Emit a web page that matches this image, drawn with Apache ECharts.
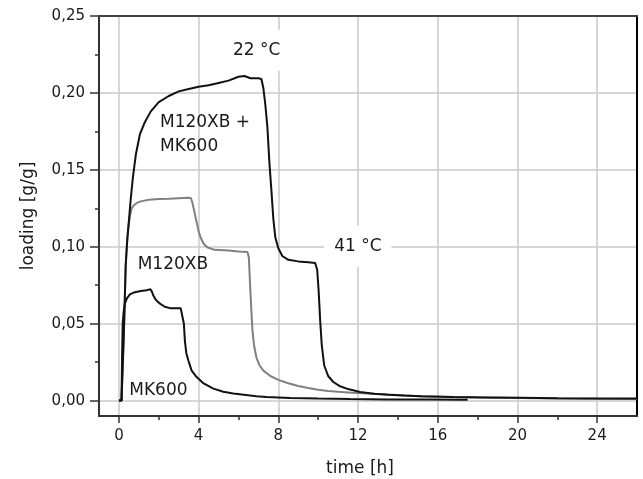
<!DOCTYPE html>
<html><head><meta charset="utf-8">
<script src="https://cdn.jsdelivr.net/npm/echarts@6/dist/echarts.min.js"></script>
<style>html,body{margin:0;padding:0;background:#fff}#c{width:643px;height:479px}</style>
</head><body><div id="c"></div>
<script>
// ---- data ----
const mixTime = [0, 0.13, 0.25, 0.34, 0.42, 0.5, 0.6, 0.7, 0.85, 1.05, 1.3, 1.6, 2.0, 2.5, 3.0, 3.5, 4.0, 4.5, 5.0, 5.5, 6.0, 6.3, 6.6, 7.0, 7.15, 7.25, 7.35, 7.45, 7.55, 7.65, 7.75, 7.85, 8.0, 8.2, 8.5, 9.0, 9.5, 9.85, 9.95, 10.02, 10.1, 10.18, 10.3, 10.5, 10.76, 11.1, 11.5, 12.1, 12.8, 13.5, 14.3, 15.2, 16.8, 18.5, 20.1, 22, 24, 26];
const mixLoad = [0, 0, 0.045, 0.088, 0.105, 0.117, 0.132, 0.145, 0.16, 0.173, 0.181, 0.188, 0.194, 0.198, 0.201, 0.2025, 0.204, 0.205, 0.2065, 0.208, 0.2105, 0.211, 0.2095, 0.2095, 0.209, 0.203, 0.192, 0.178, 0.155, 0.137, 0.118, 0.106, 0.099, 0.094, 0.0915, 0.0905, 0.09, 0.0895, 0.085, 0.072, 0.052, 0.036, 0.023, 0.016, 0.0121, 0.0093, 0.0075, 0.0056, 0.0045, 0.0038, 0.0033, 0.0029, 0.0023, 0.0021, 0.0019, 0.0016, 0.0014, 0.0013];

const m120Time = [0, 0.13, 0.25, 0.34, 0.42, 0.5, 0.57, 0.64, 0.75, 0.9, 1.1, 1.5, 2.0, 2.5, 3.0, 3.5, 3.62, 3.7, 3.8, 3.9, 4.0, 4.1, 4.25, 4.45, 4.8, 5.5, 6.0, 6.45, 6.52, 6.58, 6.64, 6.7, 6.78, 6.9, 7.05, 7.25, 7.6, 8.0, 8.5, 9.0, 9.5, 10, 10.5, 11, 11.7, 12.5, 13.5, 15, 16.5, 18, 20, 22, 24, 26];
const m120Load = [0, 0, 0.045, 0.088, 0.105, 0.115, 0.121, 0.125, 0.127, 0.1285, 0.1295, 0.1305, 0.131, 0.1312, 0.1315, 0.1318, 0.1315, 0.128, 0.122, 0.116, 0.11, 0.106, 0.102, 0.0995, 0.098, 0.0975, 0.097, 0.0966, 0.093, 0.076, 0.06, 0.046, 0.036, 0.028, 0.023, 0.0195, 0.016, 0.0135, 0.0113, 0.0095, 0.0082, 0.007, 0.0063, 0.0057, 0.0051, 0.0046, 0.004, 0.0029, 0.0024, 0.002, 0.0017, 0.0014, 0.0012, 0.0011];

const mkTime = [0, 0.13, 0.16, 0.19, 0.24, 0.3, 0.4, 0.55, 0.8, 1.1, 1.4, 1.58, 1.65, 1.72, 1.85, 2.06, 2.3, 2.56, 2.8, 3.1, 3.2, 3.26, 3.31, 3.38, 3.48, 3.65, 3.9, 4.25, 4.74, 5.24, 5.74, 6.9, 7.4, 8.6, 10.0, 11.6, 13.5, 15.5, 17.5];
const mkLoad = [0, 0, 0.03, 0.05, 0.058, 0.063, 0.0665, 0.069, 0.0705, 0.0713, 0.0718, 0.0724, 0.071, 0.0685, 0.0655, 0.063, 0.061, 0.0601, 0.06, 0.06, 0.0587, 0.05, 0.039, 0.031, 0.0262, 0.0195, 0.0153, 0.0112, 0.0078, 0.0058, 0.0046, 0.0029, 0.0024, 0.0017, 0.0013, 0.001, 0.0008, 0.0007, 0.0006];

const xMajorTicks = [0, 4, 8, 12, 16, 20, 24];
const xMinorTicks = [2, 6, 10, 14, 18, 22];
const yMajorTicks = [0, 0.05, 0.1, 0.15, 0.2, 0.25];
const yMinorTicks = [0.025, 0.075, 0.125, 0.175, 0.225];

// annotation texts, anchored in data coordinates [time, loading]
const annotations = [
  { text: '22 °C', at: [6.91, 0.2278], align: 'center', box: true },
  { text: 'M120XB +', at: [2.06, 0.1805], align: 'left', box: false },
  { text: 'MK600', at: [2.06, 0.1649], align: 'left', box: false },
  { text: '41 °C', at: [11.99, 0.1003], align: 'center', box: true },
  { text: 'M120XB', at: [0.94, 0.0884], align: 'left', box: false },
  { text: 'MK600', at: [0.52, 0.0062], align: 'left', box: false }
];

const pairs = (t, v) => t.map((x, i) => [x, v[i]]);
const FONT = '"DejaVu Sans", "Liberation Sans", sans-serif';
const TXT = '#1a1a1a';
const fmt = v => Number(v).toFixed(2).replace('.', ',');

const chart = echarts.init(document.getElementById('c'), null, { renderer: 'canvas' });

chart.setOption({
  animation: false,
  backgroundColor: '#fff',
  grid: { left: 99, right: 6, top: 16, bottom: 63, containLabel: false, outerBoundsMode: 'none' },
  xAxis: [
    {
      type: 'value', min: -1, max: 26, position: 'bottom',
      name: 'time [h]', nameLocation: 'middle', nameGap: 44,
      nameTextStyle: { fontFamily: FONT, fontSize: 17, color: TXT, padding: [0, 16, 0, 0] },
      axisLine: { show: true, onZero: false, lineStyle: { color: '#333', width: 2 } },
      axisTick: { show: true, inside: false, length: 7, customValues: xMajorTicks, lineStyle: { color: '#333', width: 1.5 } },
      axisLabel: { show: true, customValues: xMajorTicks, margin: 13, fontFamily: FONT, fontSize: 15, color: TXT },
      splitLine: { show: true, lineStyle: { color: '#c8c8c8', width: 1.5 } },
      minorTick: { show: false }
    },
    {
      type: 'value', min: -1, max: 26, position: 'bottom',
      axisLine: { show: false, onZero: false },
      axisTick: { show: true, inside: false, length: 4, customValues: xMinorTicks, lineStyle: { color: '#333', width: 1.5 } },
      axisLabel: { show: false },
      splitLine: { show: false }
    },
    {
      type: 'value', min: -1, max: 26, position: 'top',
      axisLine: { show: true, onZero: false, lineStyle: { color: '#444', width: 2 } },
      axisTick: { show: false }, axisLabel: { show: false }, splitLine: { show: false }
    }
  ],
  yAxis: [
    {
      type: 'value', min: -0.01, max: 0.25, position: 'left',
      name: 'loading [g/g]', nameLocation: 'middle', nameGap: 62, nameRotate: 90,
      nameTextStyle: { fontFamily: FONT, fontSize: 17, color: TXT },
      axisLine: { show: true, onZero: false, lineStyle: { color: '#333', width: 2 } },
      axisTick: { show: true, inside: false, length: 9, customValues: yMajorTicks, lineStyle: { color: '#333', width: 1.5 } },
      axisLabel: { show: true, customValues: yMajorTicks, margin: 14, fontFamily: FONT, fontSize: 15, color: TXT, formatter: fmt },
      splitLine: { show: true, lineStyle: { color: '#c8c8c8', width: 1.5 } }
    },
    {
      type: 'value', min: -0.01, max: 0.25, position: 'left',
      axisLine: { show: false, onZero: false },
      axisTick: { show: true, inside: false, length: 4, customValues: yMinorTicks, lineStyle: { color: '#333', width: 1.5 } },
      axisLabel: { show: false },
      splitLine: { show: false }
    },
    {
      type: 'value', min: -0.01, max: 0.25, position: 'right',
      axisLine: { show: true, onZero: false, lineStyle: { color: '#000', width: 2 } },
      axisTick: { show: false }, axisLabel: { show: false }, splitLine: { show: false }
    }
  ],
  series: [
    {
      name: 'M120XB', type: 'line', xAxisIndex: 0, yAxisIndex: 0,
      data: pairs(m120Time, m120Load), showSymbol: false, symbol: 'none',
      lineStyle: { color: '#808080', width: 2 }, z: 3
    },
    {
      name: 'M120XB + MK600', type: 'line', xAxisIndex: 0, yAxisIndex: 0,
      data: pairs(mixTime, mixLoad), showSymbol: false, symbol: 'none',
      lineStyle: { color: '#111', width: 2 }, z: 4
    },
    {
      name: 'MK600', type: 'line', xAxisIndex: 0, yAxisIndex: 0,
      data: pairs(mkTime, mkLoad), showSymbol: false, symbol: 'none',
      lineStyle: { color: '#111', width: 2 }, z: 4
    }
  ]
});

const graphics = annotations.map(a => {
  const p = chart.convertToPixel({ gridIndex: 0 }, a.at);
  return {
    type: 'text', x: p[0], y: p[1], z: 1,
    style: {
      text: a.text, font: '17px ' + FONT, fill: TXT,
      align: a.align, verticalAlign: 'middle',
      backgroundColor: a.box ? '#fff' : 'transparent',
      padding: a.box ? [13, 10, 11, 10] : 0
    }
  };
});
chart.setOption({ graphic: graphics });
</script>
</body></html>
